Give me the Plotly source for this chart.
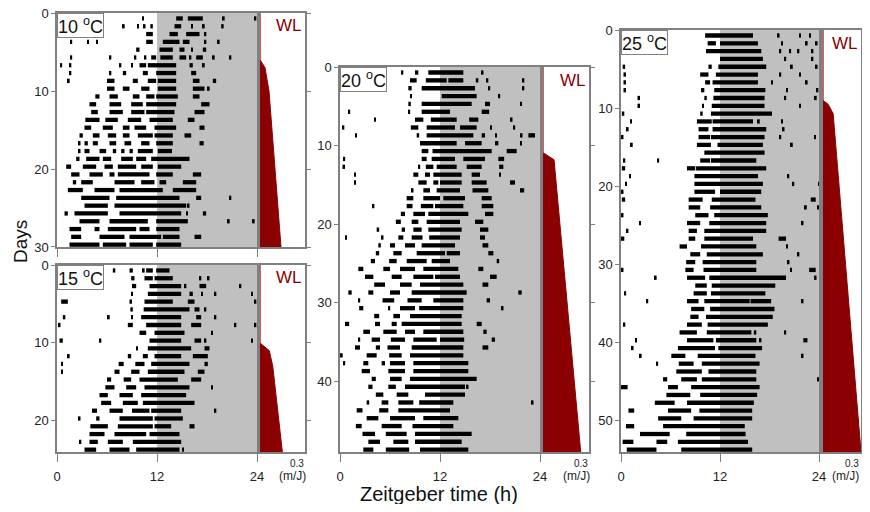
import plotly.graph_objects as go

# Activity bouts per day (Zeitgeber hours). "a-b" is a bout, a lone number a short burst.
ACT_10C = [
    "10.2 14.3-15.1 15.7-17.5 19.9 23.7",
    "7.9 9.6 10.4 11.2-11.5 14.1-14.9 16.1 17.5 19.7-20.0",
    "2.3-2.7 10.7-11.5 13.5-14.5 15.5-17.1 17.7",
    "1.6 3.6 4.7 10.7-11.5 12.7-14.7 15.1-15.9 17.7 19.3",
    "9.5-9.9 12.3-13.9 14.7-15.3 16.1 17.5-17.9",
    "1.6 6.3 9.3 10.5 11.3-11.9 12.4-13.9 14.7-15.5 15.9 16.7-17.5 18.7 20.7",
    "0.4 1.5 7.5 8.9 9.9-10.7 10.9-14.3 15.9-16.3 17.5",
    "1.5 6.3 7.9-8.3 10.3-10.9 11.9-14.3 16.1-16.7",
    "1.3 6.0-6.9 9.1-9.7 10.9-11.9 12.1-14.3 16.3-17.1 18.7-19.1",
    "6.0-6.9 7.9-8.7 10.1-11.1 12.1-14.3 16.3-17.7 18.1",
    "4.6-5.1 6.3-7.3 9.1-9.9 10.7-11.7 11.9-14.5 16.3-17.1",
    "3.9-4.7 6.3-7.7 8.9-10.3 10.7-14.3 17.3-18.3",
    "4.1-4.9 6.3-7.9 8.9-10.5 10.7-14.1 16.5-17.7",
    "3.4-5.1 5.8-7.3 8.5-10.1 11.1-13.9 15.7-16.5",
    "3.3-4.1 5.5-6.7 7.9-8.7 9.3-10.7 11.7-14.3 17.1-17.7",
    "2.7-3.1 4.3-5.1 6.1-7.1 7.9-8.7 9.7-11.5 11.7-13.9 15.3-16.1",
    "2.6 3.3-3.7 4.3-4.9 6.3-7.1 8.1-8.9 10.1-11.1 11.9-13.9 17.1-17.6",
    "2.6 3.3-3.9 5.1-5.9 6.7-7.1 7.7-8.1 8.7-9.1 9.7-11.5 12.1-13.8",
    "2.3-2.7 3.5-5.1 5.5-6.5 7.7-9.1 9.5-10.7 11.3-15.9",
    "1.1-1.7 3.1-4.7 5.7-6.7 7.3-9.5 10.1-11.5 12.1-14.9",
    "1.7-2.7 3.9-5.5 6.3-6.9 7.3-11.1 11.9-13.9 16.3-17.3",
    "1.9-2.3 2.9-4.3 6.9-9.3 10.1-11.7 12.3-13.1 15.1-16.7",
    "1.3-3.1 4.5-6.9 7.5-12.7 13.9-16.7",
    "2.9-6.3 7.1-14.7 16.7-17.3 20.7",
    "3.3-6.1 6.9-15.5 15.7-15.9",
    "0.9-1.3 2.1-6.1 7.5-14.9 15.5 17.5-17.9",
    "2.7-5.1 6.3-10.9 11.9-15.7 20.5 23.5",
    "1.5-2.9 4.5-5.1 6.1-9.5 9.9-11.1 11.9-14.7",
    "1.7-2.9 5.1-8.1 8.7-12.5 12.7-14.7 16.5-17.3",
    "1.5-5.1 5.5-8.3 8.7-11.5 11.9-14.9",
]

ACT_15C = [
    "6.7-7.0 8.7-9.1 10.3 10.7-11.5 11.9-13.5",
    "8.9-9.3 10.5-11.5 11.7-13.9 17.1 18.1-18.3",
    "9.0-9.5 11.1-14.9 15.3 17.1-17.9 21.9",
    "8.9-9.1 10.9-14.9 15.9-16.3 17.3 18.9 23.3",
    "0.5-1.3 8.7-9.0 10.5-13.9 15.7-16.5 23.7",
    "8.8-9.1 10.4-15.9 16.5-17.1 17.7",
    "0.7-1.0 6.1 8.9 10.1-14.9 16.7-17.3 18.9",
    "0.2 8.5-9.1 10.7-14.9 16.1-17.3 21.3 23.7",
    "9.9-10.7 11.7-15.3 18.5",
    "0.3-0.7 5.1 11.1-14.9 16.5-17.3 17.7 23.3",
    "9.5-9.7 10.9-16.1 17.7-18.3",
    "1.3 8.5-8.9 10.3-10.9 11.7-14.9 16.3-18.1",
    "0.5 7.4-8.0 9.4-10.5 11.3-15.9 17.7-18.1",
    "0.5 6.9-7.5 8.9-9.9 10.9-15.3 16.9-17.7",
    "6.0-6.5 8.0-8.9 9.9-14.5 16.1-17.3",
    "5.8-6.9 8.3-9.5 10.5-15.9 18.5",
    "5.1-6.1 7.5-9.1 10.1-15.5",
    "5.3-6.5 7.9-9.7 10.3-16.5",
    "4.2-4.8 6.3-7.9 9.0-11.1 11.3-14.9 18.9",
    "2.6 4.7-5.1 7.5-11.5 11.7-15.1",
    "4.0-6.1 7.3-11.5 11.7-13.7 15.9-16.5",
    "3.9-5.7 6.9-10.7 11.1-14.7",
    "2.7 3.9-4.9 6.1-7.9 9.1-14.9",
    "3.3-4.7 6.3-8.7 9.5-14.7 15.0",
]

ACT_20C = [
    "7.4-7.6 9.0-9.4 10.6-14.8 17.0",
    "8.4-9.2 10.3-12.8 13.0-14.8 16.3-16.6 17.6-17.8 21.9",
    "8.2-8.6 9.8-16.2 17.8 21.9",
    "8.4 12.2-16.4 19.0",
    "8.2-8.5 9.8-15.8 17.4-18.0 21.6-21.8",
    "1.0 8.2 9.8-13.2 17.0-17.9",
    "4.1 9.0-10.0 10.9-14.0 15.5-16.6 20.4-20.7",
    "0.3 8.5-9.4 10.4-13.8 14.4-16.4 18.0 20.8",
    "1.8 9.2-9.5 10.4-16.0 17.0-17.4 18.6 21.6-21.9 22.6-23.4",
    "9.6-14.0 15.0-17.0 18.6-19.0 21.6",
    "9.8-10.6 11.1-18.2 20.0-21.2",
    "0.4 9.8-10.4 11.0-13.8 14.8-17.4 19.0-19.7",
    "0.3-0.6 9.4 10.3-11.2 11.6-14.0 15.2-17.0 19.1-19.6",
    "1.7 8.8-9.4 10.2-10.8 11.2-14.6 15.8-16.8 19.1",
    "1.7 9.4-10.4 11.2-11.8 12.0-14.6 15.8-17.6 20.4-21.0",
    "8.6 10.0-10.8 11.6-14.4 15.9-17.8 21.6-22.1",
    "8.0-8.8 10.0-12.0 12.4-15.0 17.0-18.2",
    "3.9 8.0-8.7 9.7-11.2 11.4-14.8 17.0-18.4",
    "7.3-7.8 8.8-10.2 10.6-15.4 17.4-18.4",
    "6.7-7.3 8.6-9.4 10.4-14.4 16.2-17.2",
    "4.4-4.7 7.4-7.8 8.8-9.8 10.6-14.6 16.8-17.8",
    "0.6-0.8 5.0 7.0-7.6 8.6-9.9 10.7-14.4 16.8-17.4",
    "4.6-4.9 6.0-6.6 7.8-9.0 9.8-13.8 17.1-17.8",
    "4.3-4.7 6.4-7.4 9.2-12.6 12.8-14.4 17.8-18.4",
    "3.7-4.2 5.9-6.8 8.0-10.4 11.0-13.2 18.8-19.1",
    "2.2-2.8 5.2-6.0 7.2-9.0 10.0-14.2 16.6-17.2",
    "3.0-4.0 6.2-7.4 8.8-11.2 11.4-14.4 18.0-18.8",
    "4.1-5.4 7.2-8.6 9.6-14.8 17.1-17.8",
    "1.0-1.4 3.4-4.0 6.0-7.2 8.6-15.2 21.4-21.8",
    "2.2 5.1-6.5 8.1-9.8 11.2-14.8 17.6-18.0",
    "2.3-2.8 5.8 7.2-9.0 9.5-14.8 19.4",
    "4.1-4.7 6.4-7.2 8.4-14.6",
    "0.6-1.1 4.2-4.8 6.2-6.8 7.4-14.6 16.4-17.0",
    "2.8-3.6 5.2-6.8 7.8-9.0 10.0-14.8 17.2-17.6",
    "2.2 3.8-4.8 6.1-7.8 8.8-11.6 12.0-14.9 18.2-18.6",
    "1.8-2.4 4.3-4.8 5.7-7.2 8.6-14.8 17.1-17.8",
    "0.1 3.2-4.4 5.9-7.4 8.4-14.8",
    "0.4 2.8-3.4 5.0-5.4 6.0-7.8 8.8-15.4",
    "2.6-3.6 5.8-7.8 8.8-15.4",
    "3.8-4.3 6.0-7.4 8.4-16.4",
    "3.4-3.9 5.8-6.7 7.8-15.0 15.2",
    "4.3-5.2 6.8-8.2 10.2-15.0",
    "3.2-3.5 5.0-5.8 7.0-8.8 9.5-13.6 23.0",
    "2.0-2.7 4.7-5.8 7.0-13.2",
    "3.2-4.6 6.0-9.0 10.0-14.2",
    "1.9-2.6 5.0-7.4 8.7-13.6",
    "2.7-4.2 5.5-8.0 9.0-15.8",
    "3.4-4.8 6.4-8.2 9.0-14.6",
    "2.8-4.0 5.5-8.3 9.6-15.4",
]

ACT_25C = [
    "10.2-16.0 19.0 21.6 22.8",
    "10.5-11.5 12.0-16.6 19.4 22.4 23.6",
    "0.1 10.3-17.0 19.2 20.4 21.4 23.1",
    "12.0-17.2 19.8 23.1",
    "0.2-0.5 10.6-11.0 11.8-17.6 20.6 23.6",
    "0.3-0.6 9.6-10.6 11.5-16.6 19.2 21.6",
    "0.3-0.6 10.2-10.8 11.1-16.6 18.2 22.4",
    "0.3-0.6 9.7-10.1 11.3-17.5 20.0 23.7",
    "2.0-2.3 10.1-10.4 11.2-17.4 19.8 23.5",
    "2.0-2.3 9.9-10.0 11.0-17.4 21.6",
    "0.1-0.4 9.6-9.9 10.9-18.3",
    "1.1 9.2-11.0 11.1-16.0 16.6 19.4",
    "0.7 9.4-10.6 11.1-17.6 19.6",
    "0.1-0.3 9.4-10.8 10.9-17.4 19.2 23.4",
    "1.2 9.2-10.9 11.7-17.2 20.6",
    "10.1-17.4",
    "0.3 4.4 9.6-10.8 10.9-16.4",
    "0.1-0.5 8.0-9.0 9.1-17.6",
    "1.0-1.2 8.9-16.6 20.2-20.4",
    "0.5-0.7 8.9-17.2 20.8-21.0 23.9",
    "0.0-0.3 8.9-11.4 12.0-17.0",
    "0.1-0.5 8.2-9.9 11.0-16.3 23.0-23.6",
    "8.2-9.6 10.8-17.0 22.3 23.8",
    "0.1-0.3 9.0-10.6 11.3-17.8",
    "2.2 8.0-9.6 10.7-17.6 21.9",
    "0.7-0.9 8.2-9.2 10.1-17.6",
    "0.0-0.4 8.2-9.0 10.1-16.0 19.1-20.0",
    "7.1-8.0 9.7-16.4 20.0",
    "8.4-9.6 10.4-17.2 21.4",
    "7.9-9.0 9.9-16.4 20.2",
    "0.1-0.3 7.8-8.8 10.0-16.4 20.5 22.8-23.6",
    "4.1 8.0-10.2 10.7-20.0 23.4-23.7",
    "9.0-10.4 11.0-18.7",
    "0.4 8.8-10.4 10.9-17.5",
    "3.1-3.3 8.0-9.4 10.1-15.6 15.7-18.2 21.9",
    "8.5-10.1 10.8-18.6",
    "8.4-9.4 10.3-18.4",
    "0.3 8.0-9.8 10.5-17.8",
    "7.1-9.2 10.4-15.8 16.1-16.4 19.8",
    "1.7 8.0-11.2 11.5-16.4 16.8 22.1-22.6",
    "1.3 6.9-11.4 11.8-17.1",
    "2.3-2.5 6.1-7.8 9.3-16.3 21.9",
    "4.3-4.5 7.0-8.8 9.8-16.8",
    "6.7-9.8 10.6-16.4",
    "5.1-5.6 7.3-9.2 9.8-16.4 23.8",
    "0.0-0.8 5.7-6.9 8.5-16.8",
    "5.5-8.4 9.6-16.5",
    "4.1-6.5 8.0-16.1",
    "0.9-1.6 5.7-8.5 9.5-15.9",
    "4.5-7.3 8.8-15.9",
    "0.6-1.6 5.1-15.0",
    "2.3-5.9 7.9-15.1",
    "0.2-1.5 4.3-5.6 6.9-15.4",
    "0.7-4.3 7.3-15.9",
]

# Wheel load (m/J) against day
WL_10C_DAY = [0, 6, 7, 10, 30]
WL_10C = [0, 0, 0.033, 0.06, 0.14]
WL_15C_DAY = [0, 10, 11, 13, 24]
WL_15C = [0, 0, 0.062, 0.085, 0.149]
WL_20C_DAY = [0, 10.9, 11.8, 49]
WL_20C = [0, 0, 0.072, 0.246]
WL_25C_DAY = [0, 9, 9.5, 10.7, 54]
WL_25C = [0, 0, 0.04, 0.08, 0.3]

# the page body has an 8px margin, so layout positions are given in window
# pixels and shifted into figure pixels here
OFF = 8
W, H = 854, 496
FONT = "Liberation Sans, Arial, sans-serif"
GREY = "#808080"


def fx(px):
    return (px - OFF) / W


def fy(py):
    return 1 - (py - OFF) / H


def bouts(rows):
    y, base, length = [], [], []
    for i, row in enumerate(rows):
        for tok in row.split():
            if "-" in tok:
                a, b = map(float, tok.split("-"))
            else:
                a = float(tok)
                b = a + 0.22
            y.append(i + 0.7)
            base.append(a)
            length.append(b - a)
    return y, base, length


# label, rows, wl days, wl values, day range, window box (ax0, ax1, wl0, wl1, top, bottom), x labels
panels = [
    ("10", ACT_10C, WL_10C_DAY, WL_10C, 30, (57, 257, 260, 305, 13, 247), False),
    ("15", ACT_15C, WL_15C_DAY, WL_15C, 24, (57, 257, 260, 305, 265, 452), True),
    ("20", ACT_20C, WL_20C_DAY, WL_20C, 49, (340, 540, 543, 589, 67, 452), True),
    ("25", ACT_25C, WL_25C_DAY, WL_25C, 54, (621, 819, 823, 861, 30, 452), True),
]

fig = go.Figure()
layout = dict(
    width=W, height=H, margin=dict(l=0, r=0, t=0, b=0, pad=0),
    paper_bgcolor="white", plot_bgcolor="white",
    showlegend=False, barmode="overlay",
    font=dict(family=FONT, color="#222"),
    shapes=[], annotations=[],
)

for k, (label, rows, wl_day, wl, ndays, box, xlabels) in enumerate(panels):
    ax0, ax1, wl0, wl1, top, bottom = box
    ia, iw = 2 * k + 1, 2 * k + 2
    xa = "x" if ia == 1 else f"x{ia}"
    ya = "y" if ia == 1 else f"y{ia}"
    xw, yw = f"x{iw}", f"y{iw}"

    y, base, length = bouts(rows)
    fig.add_trace(go.Bar(orientation="h", y=y, x=length, base=base, width=0.55,
                         marker=dict(color="black", line=dict(width=0)),
                         xaxis=xa, yaxis=ya, hoverinfo="skip"))

    # wheel-load profile
    fig.add_trace(go.Scatter(x=wl, y=wl_day, mode="lines", fill="tozerox",
                             fillcolor="#8b0000", line=dict(color="#8b0000", width=1),
                             xaxis=xw, yaxis=yw, hoverinfo="skip"))
    fig.add_trace(go.Scatter(x=[0, 0], y=[0, wl_day[1]], mode="lines",
                             line=dict(color="#e05050", width=1.2),
                             xaxis=xw, yaxis=yw, hoverinfo="skip"))

    axis_common = dict(showline=True, linecolor=GREY, linewidth=1.5, mirror=True,
                       showgrid=False, zeroline=False, tickcolor=GREY, automargin=False,
                       ticklabeloverflow="allow", tickfont=dict(size=13, color="#222"))
    dom_y = [fy(bottom), fy(top)]
    day_ticks = list(range(0, ndays + 1, 10))
    layout[f"xaxis{'' if ia == 1 else ia}"] = dict(
        axis_common, domain=[fx(ax0), fx(ax1)], anchor=ya, range=[0, 24],
        tickvals=[0, 12, 24], ticks="outside", ticklen=8,
        showticklabels=xlabels, ticklabelstandoff=4)
    layout[f"yaxis{'' if ia == 1 else ia}"] = dict(
        axis_common, domain=dom_y, anchor=xa, range=[ndays + 0.001, -0.001],
        tickvals=day_ticks, ticks="outside", ticklen=4)
    layout[f"xaxis{iw}"] = dict(
        axis_common, domain=[fx(wl0), fx(wl1)], anchor=yw, range=[0, 0.3],
        showticklabels=False, ticks="")
    layout[f"yaxis{iw}"] = dict(
        axis_common, domain=dom_y, anchor=xw, range=[ndays, 0],
        tickvals=day_ticks, ticks="outside", ticklen=4, side="right",
        showticklabels=False)

    layout["shapes"].append(dict(type="rect", xref=xa, yref=f"{ya} domain",
                                 x0=12, x1=24, y0=0, y1=1, fillcolor="#c0c0c0",
                                 line=dict(width=0), layer="below"))

    layout["annotations"].append(dict(
        text=f"{label} <sup>o</sup>C", xref=f"{xa} domain", yref=f"{ya} domain",
        x=0, y=1, xanchor="left", yanchor="top", showarrow=False,
        font=dict(size=18, color="#111"), bgcolor="white",
        bordercolor=GREY, borderwidth=1, borderpad=0))
    layout["annotations"].append(dict(
        text="WL", xref=f"{xw} domain", yref=f"{yw} domain",
        x=0.97, y=0.995, xanchor="right", yanchor="top", showarrow=False,
        font=dict(size=17, color="#8b0000")))
    if xlabels:
        layout["annotations"].append(dict(
            text="0.3", xref="paper", yref="paper", x=fx(min(wl1 + 1, 861)), y=fy(463),
            xanchor="right", yanchor="middle", showarrow=False,
            font=dict(size=10, color="#222")))
        layout["annotations"].append(dict(
            text="(m/J)", xref="paper", yref="paper", x=fx(min(wl1 + 3, 861)), y=fy(476),
            xanchor="right", yanchor="middle", showarrow=False,
            font=dict(size=12, color="#222")))

layout["annotations"].append(dict(
    text="Days", xref="paper", yref="paper", x=fx(20), y=fy(242),
    xanchor="center", yanchor="middle",
    textangle=-90, showarrow=False, font=dict(size=19, color="#111")))
layout["annotations"].append(dict(
    text="Zeitgeber time (h)", xref="paper", yref="paper", x=fx(439), y=fy(494),
    xanchor="center", yanchor="middle",
    showarrow=False, font=dict(size=20, color="#111")))

fig.update_layout(**layout)
fig.write_html("out.html")
